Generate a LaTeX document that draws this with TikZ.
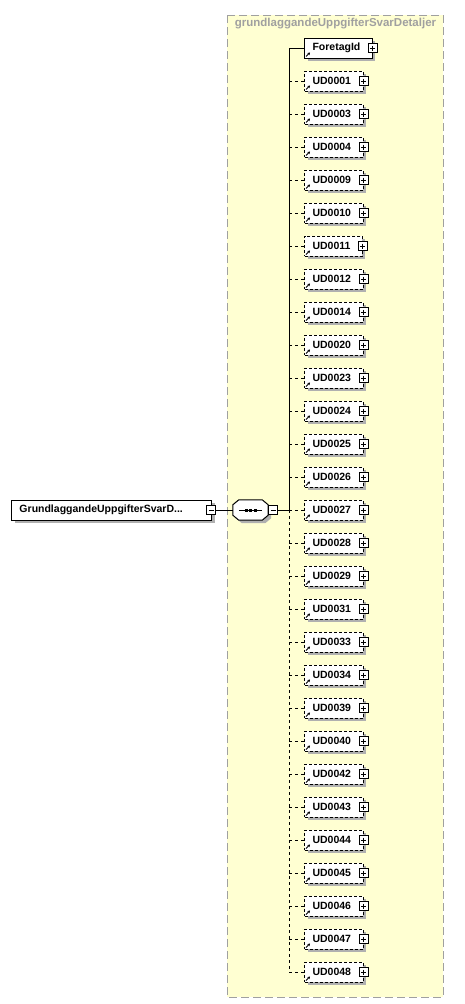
\documentclass[tikz,border=0pt]{standalone}
\usepackage{fontspec}
\setsansfont{Liberation Sans}
\usepackage{xcolor}
\usepackage{tikz}
\usetikzlibrary{positioning,shadows,arrows.meta}

\definecolor{groupfill}{RGB}{255,255,210}
\definecolor{groupline}{RGB}{160,160,160}
\definecolor{shadowgray}{RGB}{176,176,176}

\begin{document}
\begin{tikzpicture}[x=1pt,y=-1pt,
    boxshadow/.style={drop shadow={shadow xshift=3pt, shadow yshift=-3pt, fill=shadowgray, opacity=1}},
    elem/.style={draw, fill=white, line width=1pt, anchor=west, minimum height=20pt,
        inner xsep=0pt, inner ysep=0pt, boxshadow,
        font=\sffamily\bfseries\fontsize{10.5}{12}\selectfont,
        execute at begin node=\hspace*{8pt}, execute at end node=\hspace*{12pt}},
    optelem/.style={elem, dash pattern=on 3pt off 2pt},
    rootelem/.style={elem, font=\sffamily\bfseries\fontsize{10.5}{13}\selectfont,
        execute at end node=\hspace*{17pt}},
    signbox/.style={draw, fill=white, line width=1pt, minimum size=9pt, inner sep=0pt},
    plusbox/.style={signbox, path picture={
        \draw[line width=1pt, shorten <=2pt, shorten >=2pt] (path picture bounding box.north) -- (path picture bounding box.south);
        \draw[line width=1pt, shorten <=2pt, shorten >=2pt] (path picture bounding box.west) -- (path picture bounding box.east);}},
    minusbox/.style={signbox, path picture={
        \draw[line width=1pt, shorten <=2pt, shorten >=2pt] (path picture bounding box.west) -- (path picture bounding box.east);}},
    compositor/.style={minimum width=35pt, minimum height=20pt, inner sep=0pt},
    refarrow/.style={line width=1pt, -{Stealth[length=2.5pt,width=3pt]}},
    link/.style={line width=1pt},
    optlink/.style={line width=1pt, dash pattern=on 3pt off 3pt}]

    \useasboundingbox (0,0) rectangle (465,1004);

    % Draw the group box
    \draw[fill=groupfill, draw=groupline, line width=1pt, dash pattern=on 8pt off 4pt] (227,15) rectangle (443,997);
    \node[text=groupline, font=\sffamily\bfseries\fontsize{11.5}{13}\selectfont] (grouptitle) at (335.5,24) {grundlaggandeUppgifterSvarDetaljer};

    % Root element and sequence
    \node[rootelem] (root) at (11,510) {GrundlaggandeUppgifterSvarD...};
    \node[minusbox] (rootminus) at ([xshift=-1pt]root.east) {};
    \node[compositor] (seq) at (250.5,510) {};
    \draw[fill=white, line width=1pt, boxshadow]
        ([xshift=6pt]seq.north west) -- ([xshift=-6pt]seq.north east) -- ([yshift=-5pt]seq.north east)
        -- ([yshift=5pt]seq.south east) -- ([xshift=-6pt]seq.south east) -- ([xshift=6pt]seq.south west)
        -- ([yshift=5pt]seq.south west) -- ([yshift=-5pt]seq.north west) -- cycle;
    \node[minusbox, anchor=west] (seqminus) at (seq.east) {};
    \draw[link] ([xshift=6pt]seq.west) -- ([xshift=-6pt]seq.east);
    \foreach \dx in {-4.5,0,4.5}
        \fill ([shift={(\dx-1.5,-1.5)}]seq.center) rectangle ++(3,3);
    \draw[link] (rootminus.east) -- (seq.west);

    % Children
    \node[elem] (ForetagId) at (304,48) {ForetagId};
    \foreach \name [count=\k] in {UD0001,UD0003,UD0004,UD0009,UD0010,UD0011,UD0012,UD0014,
        UD0020,UD0023,UD0024,UD0025,UD0026,UD0027,UD0028,UD0029,UD0031,UD0033,UD0034,
        UD0039,UD0040,UD0042,UD0043,UD0044,UD0045,UD0046,UD0047,UD0048}
        \node[optelem] (\name) at (304,{48+33*\k}) {\name};

    % Trunk
    \coordinate (trunkmid) at (289,510);
    \draw[link] (seqminus.east) -- (trunkmid);
    \draw[link] (ForetagId.west -| trunkmid) -- (trunkmid);
    \draw[optlink] (trunkmid) -- (UD0048.west -| trunkmid);
    \draw[link] (ForetagId.west -| trunkmid) -- (ForetagId.west);
    \draw[refarrow] ([shift={(2,-2)}]ForetagId.south west) -- ++(4,-4);
    \node[plusbox] (plusForetagId) at (ForetagId.east) {};
    \foreach \name in {UD0001,UD0003,UD0004,UD0009,UD0010,UD0011,UD0012,UD0014,
        UD0020,UD0023,UD0024,UD0025,UD0026,UD0027,UD0028,UD0029,UD0031,UD0033,UD0034,
        UD0039,UD0040,UD0042,UD0043,UD0044,UD0045,UD0046,UD0047,UD0048} {
        \draw[optlink] (\name.west -| trunkmid) -- (\name.west);
        \draw[refarrow] ([shift={(2,-2)}]\name.south west) -- ++(4,-4);
        \node[plusbox] (plus\name) at (\name.east) {};
    }
\end{tikzpicture}
\end{document}
